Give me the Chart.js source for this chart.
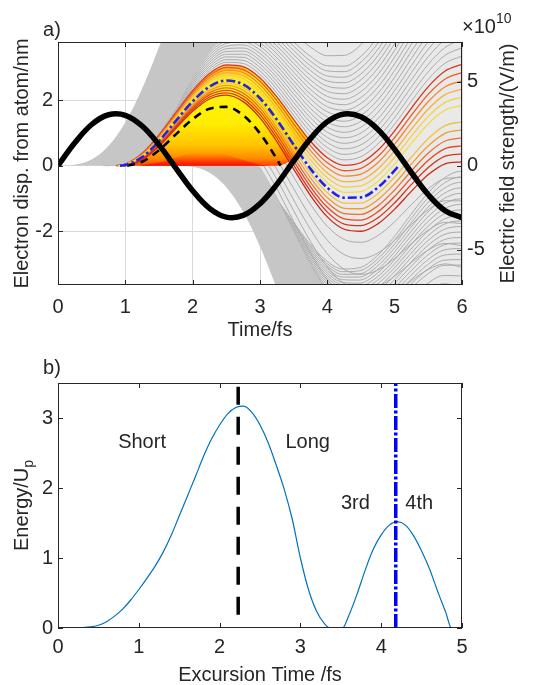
<!DOCTYPE html>
<html><head><meta charset="utf-8">
<script src="https://cdn.jsdelivr.net/npm/chart.js@4.4.1/dist/chart.umd.min.js"></script>
<style>
html,body{margin:0;padding:0;background:#fff;width:538px;height:685px;overflow:hidden}
#c1{position:absolute;left:0;top:0}
#c2{position:absolute;left:0;top:345px}
</style></head><body>
<canvas id="c1" width="538" height="345"></canvas>
<canvas id="c2" width="538" height="340"></canvas>
<script>
// ================= PANEL a) DATA =================
// driving field (x1e10 V/m)
const fieldT = [0,0.25,0.5,0.75,1,1.25,1.5,1.75,2,2.25,2.5,2.75,3,3.25,3.5,3.75,4,4.25,4.5,4.75,5,5.25,5.5,5.75,6];
const fieldE = [0,1.36,2.45,3.03,3.0,2.36,1.24,-0.14,-1.49,-2.54,-3.06,-2.96,-2.26,-1.11,0.28,1.61,2.62,3.08,2.91,2.16,0.97,-0.42,-1.73,-2.68,-3.09];

// outer edges of the grey (non-returning) trajectory bundles
const bgTopT = [0,0.25,0.5,0.75,1,1.25,1.5,1.75,2,6];
const bgTopV = [0,0.024,0.187,0.600,1.321,2.348,3.616,5.01,6.39,6.39];
const bgLowT = [0,1.725,1.975,2.225,2.475,2.725,2.975,3.225,3.475,3.725,6];
const bgLowV = [0,0,-0.024,-0.187,-0.600,-1.321,-2.348,-3.616,-5.01,-6.39,-6.39];
const solidUpT = [0,0.25,0.5,0.75,1,1.25,1.5,1.75,2,2.25,2.5];
const solidUpV = [0,0.024,0.187,0.600,1.321,2.348,3.616,5.01,6.39,7.62,8.59];
const solidUpInT = [0,0.8433,1,1.25,1.5,1.75,2,2.25,2.5];
const solidUpInV = [0,0,0.063,0.409,0.996,1.75,2.7,3.45,4.2];
const solidLowT = [1.725,1.975,2.225,2.475,2.725,2.975,3.225,3.475,3.725,3.975,4.225];
const solidLowV = [0,-0.024,-0.187,-0.600,-1.321,-2.348,-3.616,-5.01,-6.39,-7.62,-8.59];
const solidLowInT = [1.725,2.95,3.0,3.25,3.5,3.75,4.0,4.225];
const solidLowInV = [0,0,-0.057,-0.979,-2.015,-3.021,-3.868,-4.42];

// grey trajectories, upper family (birth before the field crest)
const timeG = [0.75,1,1.25,1.5,1.75,2,2.25,2.5,2.75,3,3.25,3.5,3.75,4,4.25,4.5,4.75,5,5.25,5.5,5.75,6];
const greyBirthU = [0.6708,0.69,0.6996,0.7092,0.7188,0.7283,0.7379,0.7475,0.7571,0.7667,0.7763,0.7858,0.7954,0.805,0.8146,0.8242,0.8338,0.8433,0.8529];
const g70 = [0.016,0.272,0.836,1.639,2.570,3.483,4.249,null,null,null,4.500,4.047,3.624,3.361,3.372,3.699,4.313,null,null,null,null,null];
const g72 = [0.010,0.243,0.783,1.563,2.470,3.360,4.103,null,null,null,4.260,3.784,3.339,3.052,3.040,3.343,3.934,4.748,null,null,null,null];
const g73 = [0.007,0.228,0.757,1.525,2.420,3.299,4.030,4.498,null,4.513,4.140,3.653,3.195,2.896,2.873,3.164,3.743,4.546,null,null,null,null];
const g74 = [0.005,0.214,0.731,1.487,2.371,3.237,3.957,4.413,null,4.404,4.020,3.521,3.051,2.741,2.705,2.985,3.552,4.343,null,null,null,null];
const g75 = [0.003,0.201,0.705,1.450,2.322,3.176,3.884,4.329,4.461,4.296,3.900,3.388,2.907,2.585,2.537,2.805,3.360,4.139,5.019,null,null,null];
const g76 = [0.002,0.188,0.680,1.413,2.273,3.115,3.811,4.244,4.365,4.187,3.779,3.256,2.763,2.428,2.369,2.625,3.168,3.935,4.803,null,null,null];
const g77 = [0.001,0.175,0.656,1.376,2.224,3.055,3.739,4.159,4.268,4.079,3.659,3.123,2.618,2.272,2.201,2.444,2.976,3.731,4.587,null,null,null];
const g78 = [0,0.162,0.631,1.340,2.176,2.994,3.666,4.075,4.171,3.970,3.538,2.991,2.473,2.115,2.032,2.264,2.783,3.526,4.370,null,null,null];
const g79 = [null,0.150,0.607,1.304,2.127,2.934,3.594,3.990,4.075,3.862,3.417,2.858,2.329,1.958,1.863,2.083,2.590,3.321,4.153,4.941,null,null];
const g80 = [null,0.139,0.583,1.268,2.080,2.874,3.522,3.906,3.979,3.753,3.297,2.725,2.184,1.801,1.694,1.902,2.397,3.116,3.935,4.712,null,null];
const g81 = [null,0.128,0.560,1.233,2.032,2.814,3.450,3.822,3.883,3.645,3.176,2.593,2.039,1.645,1.525,1.720,2.204,2.910,3.718,4.482,null,null];
const g82 = [null,0.117,0.537,1.198,1.985,2.755,3.378,3.738,3.787,3.537,3.056,2.460,1.894,1.488,1.356,1.539,2.010,2.705,3.500,4.252,null,null];
const g83 = [null,0.107,0.515,1.163,1.938,2.696,3.307,3.655,3.691,3.429,2.936,2.328,1.750,1.331,1.187,1.358,1.817,2.499,3.280,4.020,4.585,null];
const g84 = [null,0.097,0.493,1.129,1.891,2.637,3.236,3.572,3.595,3.321,2.816,2.196,1.606,1.174,1.018,1.177,1.624,2.293,3.064,3.792,4.343,null];
const g85 = [null,0.088,0.471,1.095,1.845,2.579,3.165,3.489,3.500,3.214,2.696,2.064,1.461,1.018,0.849,0.996,1.430,2.088,2.846,3.562,4.100,4.367];
const g86 = [null,0.079,0.450,1.061,1.800,2.521,3.095,3.406,3.406,3.107,2.577,1.932,1.317,0.862,0.681,0.815,1.237,1.883,2.629,3.332,3.858,4.112];
const g87 = [null,0.071,0.429,1.028,1.754,2.463,3.025,3.324,3.311,3.000,2.458,1.801,1.174,0.706,0.513,0.635,1.045,1.678,2.411,3.102,3.616,3.858];
const g88 = [null,0.063,0.409,0.996,1.709,2.406,2.956,3.242,3.217,2.894,2.339,1.670,1.030,0.550,0.345,0.454,0.852,1.473,2.194,2.873,3.375,3.604];
const g89 = [null,0.055,0.389,0.964,1.665,2.349,2.887,3.161,3.123,2.788,2.221,1.539,0.888,0.395,0.177,0.274,0.660,1.268,1.977,2.644,3.133,3.350];

// grey trajectories, lower family (second half cycle)
const timeM = [2.475,2.725,2.975,3.225,3.475,3.725,3.975,4.225,4.475,4.725,4.975,5.225,5.475,5.725,5.975,6.225];
const greyBirthL = [2.3958,2.415,2.4246,2.4342,2.4438,2.4533,2.4629,2.4725,2.4821,2.4917,2.5013,2.5108,2.5204,2.53,2.5396,2.5492,2.5588,2.5683,2.5779];
const m70 = [-0.016,-0.272,-0.836,-1.639,-2.570,-3.483,-4.249,null,null,null,-4.500,-4.047,-3.624,-3.361,-3.372,-3.699];
const m72 = [-0.010,-0.243,-0.783,-1.563,-2.470,-3.360,-4.103,null,null,null,-4.260,-3.784,-3.339,-3.052,-3.040,-3.343];
const m73 = [-0.007,-0.228,-0.757,-1.525,-2.420,-3.299,-4.030,-4.498,null,-4.513,-4.140,-3.653,-3.195,-2.896,-2.873,-3.164];
const m74 = [-0.005,-0.214,-0.731,-1.487,-2.371,-3.237,-3.957,-4.413,null,-4.404,-4.020,-3.521,-3.051,-2.741,-2.705,-2.985];
const m75 = [-0.003,-0.201,-0.705,-1.450,-2.322,-3.176,-3.884,-4.329,-4.461,-4.296,-3.900,-3.388,-2.907,-2.585,-2.537,-2.805];
const m76 = [-0.002,-0.188,-0.680,-1.413,-2.273,-3.115,-3.811,-4.244,-4.365,-4.187,-3.779,-3.256,-2.763,-2.428,-2.369,-2.625];
const m77 = [-0.001,-0.175,-0.656,-1.376,-2.224,-3.055,-3.739,-4.159,-4.268,-4.079,-3.659,-3.123,-2.618,-2.272,-2.201,-2.444];
const m78 = [0,-0.162,-0.631,-1.340,-2.176,-2.994,-3.666,-4.075,-4.171,-3.970,-3.538,-2.991,-2.473,-2.115,-2.032,-2.264];
const m79 = [null,-0.150,-0.607,-1.304,-2.127,-2.934,-3.594,-3.990,-4.075,-3.862,-3.417,-2.858,-2.329,-1.958,-1.863,-2.083];
const m80 = [null,-0.139,-0.583,-1.268,-2.080,-2.874,-3.522,-3.906,-3.979,-3.753,-3.297,-2.725,-2.184,-1.801,-1.694,-1.902];
const m81 = [null,-0.128,-0.560,-1.233,-2.032,-2.814,-3.450,-3.822,-3.883,-3.645,-3.176,-2.593,-2.039,-1.645,-1.525,-1.720];
const m82 = [null,-0.117,-0.537,-1.198,-1.985,-2.755,-3.378,-3.738,-3.787,-3.537,-3.056,-2.460,-1.894,-1.488,-1.356,-1.539];
const m83 = [null,-0.107,-0.515,-1.163,-1.938,-2.696,-3.307,-3.655,-3.691,-3.429,-2.936,-2.328,-1.750,-1.331,-1.187,-1.358];
const m84 = [null,-0.097,-0.493,-1.129,-1.891,-2.637,-3.236,-3.572,-3.595,-3.321,-2.816,-2.196,-1.606,-1.174,-1.018,-1.177];
const m85 = [null,-0.088,-0.471,-1.095,-1.845,-2.579,-3.165,-3.489,-3.500,-3.214,-2.696,-2.064,-1.461,-1.018,-0.849,-0.996];
const m86 = [null,-0.079,-0.450,-1.061,-1.800,-2.521,-3.095,-3.406,-3.406,-3.107,-2.577,-1.932,-1.317,-0.862,-0.681,-0.815];
const m87 = [null,-0.071,-0.429,-1.028,-1.754,-2.463,-3.025,-3.324,-3.311,-3.000,-2.458,-1.801,-1.174,-0.706,-0.513,-0.635];
const m88 = [null,-0.063,-0.409,-0.996,-1.709,-2.406,-2.956,-3.242,-3.217,-2.894,-2.339,-1.670,-1.030,-0.550,-0.345,-0.454];
const m89 = [null,-0.055,-0.389,-0.964,-1.665,-2.349,-2.887,-3.161,-3.123,-2.788,-2.221,-1.539,-0.888,-0.395,-0.177,-0.274];

// grey continuations after the first return
const timeK = [3,3.25,3.5,3.75,4,4.25,4.5,4.75,5,5.25,5.5,5.75,6];
const k104 = [null,0.518,-0.347,-1.181,-1.857,-2.258,-2.344,-2.141,-1.716,-1.190,-0.706,-0.400,-0.366];
const k107 = [null,0.199,-0.701,-1.572,-2.283,-2.719,-2.841,-2.674,-2.284,-1.794,-1.346,-1.075,-1.077];
const k110 = [0.710,-0.111,-1.046,-1.951,-2.698,-3.169,-3.325,-3.194,-2.839,-2.384,-1.971,-1.735,-1.772];
const k113 = [0.444,-0.411,-1.380,-2.320,-3.101,-3.607,-3.797,-3.700,-3.380,-2.959,-2.580,-2.379,-2.450];
const k116 = [0.188,-0.700,-1.703,-2.677,-3.491,-4.031,-4.255,-4.191,-3.905,-3.517,-3.172,-3.005,-3.109];
const k119 = [-0.057,-0.979,-2.015,-3.021,-3.868,null,null,null,null,-4.058,-3.746,-3.611,-3.748];

// coloured (returning) trajectories
const timeA = [1,1.25,1.5,1.75,2,2.25,2.5,2.75,3,3.25,3.5,3.75,4,4.25,4.5,4.75,5,5.25,5.5,5.75,6];
const longBirth = [0.8625,0.8721,0.8817,0.8913,0.9008,0.9104,0.9296,0.9392,0.9488,0.9583,0.9679,0.9775];
const c90 = [0.048,0.370,0.932,1.621,2.293,2.818,3.080,3.030,2.682,2.103,1.409,0.745,0.240,0.010,0.095,0.468,1.064,1.761,2.415,2.892,3.097];
const c91 = [0.041,0.351,0.901,1.578,2.237,2.750,3.000,2.937,2.577,1.986,1.279,0.603,0.086,-0.157,-0.084,0.277,0.860,1.545,2.187,2.651,2.844];
const c92 = [0.035,0.333,0.870,1.535,2.182,2.682,2.920,2.845,2.472,1.869,1.150,0.461,-0.068,-0.323,-0.262,0.086,0.657,1.330,1.959,2.411,2.592];
const c93 = [0.030,0.315,0.840,1.492,2.127,2.615,2.840,2.753,2.368,1.752,1.021,0.321,-0.222,-0.488,-0.440,-0.104,0.455,1.115,1.732,2.172,2.340];
const c94 = [0.025,0.298,0.810,1.450,2.073,2.549,2.761,2.662,2.265,1.637,0.893,0.180,-0.374,-0.653,-0.618,-0.294,0.253,0.901,1.506,1.933,2.089];
const c95 = [0.020,0.281,0.781,1.409,2.019,2.483,2.683,2.572,2.162,1.522,0.766,0.041,-0.526,-0.818,-0.794,-0.483,0.052,0.687,1.280,1.695,1.839];
const c97 = [0.012,0.248,0.724,1.327,1.913,2.352,2.528,2.392,1.958,1.293,0.513,-0.237,-0.828,-1.144,-1.145,-0.858,-0.348,0.263,0.831,1.222,1.341];
const c98 = [0.009,0.233,0.697,1.287,1.861,2.288,2.452,2.304,1.857,1.180,0.388,-0.374,-0.978,-1.306,-1.319,-1.044,-0.547,0.052,0.608,0.987,1.094];
const c99 = [0.006,0.218,0.670,1.248,1.810,2.224,2.376,2.216,1.757,1.068,0.263,-0.511,-1.127,-1.467,-1.492,-1.230,-0.744,-0.158,0.386,0.753,0.847];
const c100 = [0.004,0.203,0.643,1.209,1.759,2.161,2.301,2.128,1.658,0.956,0.140,-0.647,-1.275,-1.627,-1.665,-1.414,-0.941,-0.366,0.165,0.520,0.602];
const c101 = [0.002,0.190,0.617,1.171,1.709,2.099,2.226,2.042,1.559,0.845,0.017,-0.782,-1.422,-1.786,-1.836,-1.598,-1.136,-0.574,-0.055,0.288,0.358];
const c102 = [0.001,0.176,0.591,1.134,1.659,2.037,2.153,1.956,1.461,0.735,-0.106,-0.916,-1.568,-1.945,-2.006,-1.780,-1.331,-0.781,-0.273,0.057,0.115];
const longColors = ['#d8341c','#ee5a24','#f4892e','#f7b13a','#f6cf45','#f3dc4c','#f5c040','#f29a34','#ec6f2a','#e24a24','#d7361e','#c92a18'];

// highlighted trajectories
const blueT = [0.92,1,1.25,1.5,1.75,2,2.25,2.5,2.75,3,3.25,3.5,3.75,4,4.25,4.5,4.75,5,5.06];
const blueV = [0,0.016,0.264,0.752,1.368,1.966,2.417,2.605,2.482,2.060,1.407,0.639,-0.099,-0.677,-0.981,-0.970,-0.671,-0.148,0];
const cutT = [1.0254,1.25,1.5,1.75,2,2.25,2.5,2.75,3,3.25,3.305];
const cutV = [0,0.117,0.473,0.955,1.421,1.740,1.795,1.539,0.985,0.199,0];

// filled plateau of the returning bundle
const humpLowT = [0.8625,3.25,3.5,3.75];
const humpLowV = [0,0,0.22,0.745];
const hotT = [1.2,1.5,1.8,2.1,2.4,2.7,3.0,3.15];
const hotV = [0,0.1,0.28,0.4,0.38,0.2,0.03,0];

// ================= PANEL b) DATA =================
const excT = [0,0.1,0.2,0.3,0.4,0.5,0.6,0.7,0.8,0.9,1.0,1.1,1.2,1.3,1.4,1.5,1.6,1.7,1.8,1.9,2.0,2.1,2.2,2.3,2.4,2.5,2.6,2.7,2.8,2.9,3.0,3.1,3.2,3.3,3.37,3.52,3.6,3.7,3.8,3.9,4.0,4.1,4.2,4.3,4.4,4.5,4.6,4.7,4.8,4.87,5.0];
const energyUp = [0,0,0.001,0.005,0.015,0.04,0.09,0.17,0.27,0.4,0.55,0.71,0.88,1.08,1.32,1.6,1.88,2.16,2.45,2.7,2.9,3.06,3.15,3.17,3.08,2.9,2.65,2.33,1.98,1.55,1.0,0.55,0.24,0.06,0,0,0.18,0.48,0.82,1.12,1.33,1.47,1.52,1.47,1.32,1.1,0.84,0.52,0.22,0,0];
const cutoffX = [2.23,2.23];
const cutoffY = [0.19,3.5];
const fourthX = [4.18,4.18];
const fourthY = [0,3.5];
const noteText = ['Short','Long','3rd','4th'];
const noteX = [1.04,3.09,3.68,4.47];
const noteY = [2.65,2.65,1.78,1.78];

// ================= helpers =================
const FONT = "'Liberation Sans', Arial, Helvetica, sans-serif";
Chart.defaults.font.family = FONT;
Chart.defaults.font.size = 20;
Chart.defaults.color = '#262626';
Chart.defaults.animation = false;
Chart.defaults.plugins.legend.display = false;
Chart.defaults.plugins.tooltip.enabled = false;
Chart.defaults.elements.point.radius = 0;

const pts = (ts, vs) => ts.map((t, i) => ({x: t, y: vs[i]}));
const born = (t0, ts, vs) => [{x: t0, y: 0}].concat(ts.map((t, i) => ({x: t, y: vs[i]})).filter(p => p.x > t0));
function line(data, color, width, extra) {
  return Object.assign({data, borderColor: color, borderWidth: width, pointRadius: 0, fill: false,
    clip: 0, cubicInterpolationMode: 'monotone', yAxisID: 'y'}, extra || {});
}
function area(data, color, fill) {
  return {data, backgroundColor: color, borderWidth: 0, borderColor: 'rgba(0,0,0,0)', pointRadius: 0,
    fill, clip: 0, cubicInterpolationMode: 'monotone', yAxisID: 'y'};
}
function bound(data) {
  return {data, borderWidth: 0, borderColor: 'rgba(0,0,0,0)', pointRadius: 0, fill: false, clip: 0,
    cubicInterpolationMode: 'monotone', yAxisID: 'y'};
}

const framePlugin = {
  id: 'frame',
  afterDatasetsDraw(chart) {
    const {ctx, chartArea: a, scales} = chart;
    ctx.save();
    ctx.strokeStyle = '#262626'; ctx.lineWidth = 1;
    ctx.strokeRect(Math.round(a.left) + 0.5, Math.round(a.top) + 0.5, Math.round(a.right - a.left) - 1, Math.round(a.bottom - a.top) - 1);
    const L = 5;
    ctx.beginPath();
    scales.x.ticks.forEach(t => {
      const p = Math.round(scales.x.getPixelForValue(t.value)) + 0.5;
      ctx.moveTo(p, a.bottom); ctx.lineTo(p, a.bottom - L);
      ctx.moveTo(p, a.top); ctx.lineTo(p, a.top + L);
    });
    scales.y.ticks.forEach(t => {
      const p = Math.round(scales.y.getPixelForValue(t.value)) + 0.5;
      ctx.moveTo(a.left, p); ctx.lineTo(a.left + L, p);
      if (!scales.y1) { ctx.moveTo(a.right, p); ctx.lineTo(a.right - L, p); }
    });
    if (scales.y1) scales.y1.ticks.forEach(t => {
      const p = Math.round(scales.y1.getPixelForValue(t.value)) + 0.5;
      ctx.moveTo(a.right, p); ctx.lineTo(a.right - L, p);
    });
    ctx.stroke();
    ctx.restore();
  }
};

// ================= PANEL a) =================
function humpGradient(c) {
  const ch = c.chart;
  if (!ch.chartArea || !ch.scales.y) return '#ffd800';
  const y = ch.scales.y;
  const g = ch.ctx.createLinearGradient(0, y.getPixelForValue(0), 0, y.getPixelForValue(3.1));
  g.addColorStop(0, '#ff4000'); g.addColorStop(0.07, '#ff8a00'); g.addColorStop(0.2, '#ffc400');
  g.addColorStop(0.42, '#ffee00'); g.addColorStop(0.85, '#fff21a'); g.addColorStop(1, '#ffb030');
  return g;
}
function hotGradient(c) {
  const ch = c.chart;
  if (!ch.chartArea || !ch.scales.y) return 'rgba(255,40,0,0.6)';
  const y = ch.scales.y;
  const g = ch.ctx.createLinearGradient(0, y.getPixelForValue(0), 0, y.getPixelForValue(0.45));
  g.addColorStop(0, 'rgba(245,10,0,0.95)'); g.addColorStop(0.5, 'rgba(255,70,0,0.6)'); g.addColorStop(1, 'rgba(255,140,0,0)');
  return g;
}

const GREY = '#ababab';
const upperSet = [g70, g72, g73, g74, g75, g76, g77, g78, g79, g80, g81, g82, g83, g84, g85, g86, g87, g88, g89];
const lowerSet = [m70, m72, m73, m74, m75, m76, m77, m78, m79, m80, m81, m82, m83, m84, m85, m86, m87, m88, m89];
const dsA = [];
dsA.push(area(pts(bgTopT, bgTopV), '#e9e9e9', '+1'));
dsA.push(bound(pts(bgLowT, bgLowV)));
upperSet.forEach((v, i) => dsA.push(line(born(greyBirthU[i], timeG, v), GREY, 1)));
lowerSet.forEach((v, i) => dsA.push(line(born(greyBirthL[i], timeM, v), GREY, 1)));
[k104, k107, k110, k113, k116, k119].forEach(v => dsA.push(line(pts(timeK, v), GREY, 1)));
dsA.push(area(pts(solidUpT, solidUpV), '#c6c6c6', '+1'));
dsA.push(bound(pts(solidUpInT, solidUpInV)));
dsA.push(area(pts(solidLowT, solidLowV), '#c6c6c6', '+1'));
dsA.push(bound(pts(solidLowInT, solidLowInV)));
dsA.push(area(born(longBirth[0], timeA, c90).filter(p => p.x <= 3.75), humpGradient, '+1'));
dsA.push(bound(pts(humpLowT, humpLowV)));
dsA.push(area(pts(hotT, hotV), hotGradient, 'origin'));
[c90, c91, c92, c93, c94, c95, c97, c98, c99, c100, c101, c102].forEach((v, i) => dsA.push(line(born(longBirth[i], timeA, v), longColors[i], 1.3)));
dsA.push(line(pts(cutT, cutV), '#000000', 2.6, {borderDash: [8, 6]}));
dsA.push(line(pts(blueT, blueV), '#2323dc', 2.6, {borderDash: [9, 3, 2.5, 3]}));
dsA.push(line(pts(fieldT, fieldE), '#000000', 5.5, {yAxisID: 'y1', cubicInterpolationMode: 'default', tension: 0.4}));
dsA.forEach((d, i) => { d.order = dsA.length - i; });

const textA = {
  id: 'textA',
  afterDraw(chart) {
    const c = chart.ctx, a = chart.chartArea;
    c.save();
    c.fillStyle = '#262626';
    c.font = '20px ' + FONT;
    c.textAlign = 'center'; c.textBaseline = 'middle';
    c.fillText('a)', 52, 30);
    c.save();
    c.translate(508, (a.top + a.bottom) / 2);
    c.rotate(-Math.PI / 2);
    c.fillText('Electric field strength/(V/m)', 0, 0);
    c.restore();
    c.textAlign = 'left'; c.textBaseline = 'alphabetic';
    c.fillText('\u00d710', 462, 33);
    const w = c.measureText('\u00d710').width;
    c.font = '14px ' + FONT;
    c.fillText('10', 462 + w, 23);
    c.restore();
  }
};

new Chart(document.getElementById('c1'), {
  type: 'line',
  data: {datasets: dsA},
  options: {
    responsive: false, devicePixelRatio: 1, events: [],
    layout: {padding: {left: 0, right: 0, top: 42, bottom: 0}},
    scales: {
      x: {type: 'linear', min: 0, max: 6, ticks: {stepSize: 1, padding: 10},
          grid: {color: '#dadada', drawTicks: false}, border: {display: false},
          title: {display: true, text: 'Time/fs', padding: {top: 0, bottom: 3}},
          afterFit: s => { s.height = 60; }},
      y: {type: 'linear', position: 'left', min: -3.65, max: 3.78,
          afterBuildTicks: s => { s.ticks = [-2, 0, 2].map(v => ({value: v})); },
          ticks: {padding: 5}, grid: {color: '#dadada', drawTicks: false}, border: {display: false},
          title: {display: true, text: 'Electron disp. from atom/nm', padding: {top: 10, bottom: 0}},
          afterFit: s => { s.width = 58; }},
      y1: {type: 'linear', position: 'right', min: -7.1, max: 7.36,
          afterBuildTicks: s => { s.ticks = [-5, 0, 5].map(v => ({value: v})); },
          ticks: {padding: 5}, grid: {display: false, drawTicks: false}, border: {display: false},
          afterFit: s => { s.width = 76; }}
    }
  },
  plugins: [framePlugin, textA]
});

// ================= PANEL b) =================
const textB = {
  id: 'textB',
  afterDraw(chart) {
    const c = chart.ctx, a = chart.chartArea, x = chart.scales.x, y = chart.scales.y;
    c.save();
    c.fillStyle = '#262626';
    c.font = '20px ' + FONT;
    c.textAlign = 'center'; c.textBaseline = 'middle';
    c.fillText('b)', 52, 23);
    noteText.forEach((t, i) => c.fillText(t, x.getPixelForValue(noteX[i]), y.getPixelForValue(noteY[i])));
    c.save();
    c.translate(22, (a.top + a.bottom) / 2);
    c.rotate(-Math.PI / 2);
    c.textAlign = 'left';
    const w1 = c.measureText('Energy/U').width;
    c.font = '14px ' + FONT;
    const w2 = c.measureText('p').width;
    const x0 = -(w1 + w2) / 2;
    c.font = '20px ' + FONT;
    c.fillText('Energy/U', x0, 0);
    c.font = '14px ' + FONT;
    c.fillText('p', x0 + w1, 7);
    c.restore();
    c.restore();
  }
};

new Chart(document.getElementById('c2'), {
  type: 'line',
  data: {datasets: [
    {data: pts(cutoffX, cutoffY), borderColor: '#000000', borderWidth: 3.5, borderDash: [18, 12], pointRadius: 0, clip: 0, order: 1},
    {data: pts(fourthX, fourthY), borderColor: '#0000ff', borderWidth: 3.5, borderDash: [14, 2.5, 3, 2.5], pointRadius: 0, clip: 0, order: 2},
    {data: pts(excT, energyUp), borderColor: '#0072bd', borderWidth: 1.2, pointRadius: 0, clip: 0, cubicInterpolationMode: 'monotone', order: 3}
  ]},
  options: {
    responsive: false, devicePixelRatio: 1, events: [],
    layout: {padding: {left: 0, right: 76, top: 38, bottom: 0}},
    scales: {
      x: {type: 'linear', min: 0, max: 5, ticks: {stepSize: 1, padding: 7},
          grid: {display: false, drawTicks: false}, border: {display: false},
          title: {display: true, text: 'Excursion Time /fs', font: {lineHeight: 1}, padding: {top: 0, bottom: 0}},
          afterFit: s => { s.height = 57; }},
      y: {type: 'linear', min: 0, max: 3.5,
          afterBuildTicks: s => { s.ticks = [0, 1, 2, 3].map(v => ({value: v})); },
          ticks: {padding: 5}, grid: {display: false, drawTicks: false}, border: {display: false},
          afterFit: s => { s.width = 58; }}
    }
  },
  plugins: [framePlugin, textB]
});
</script></body></html>
